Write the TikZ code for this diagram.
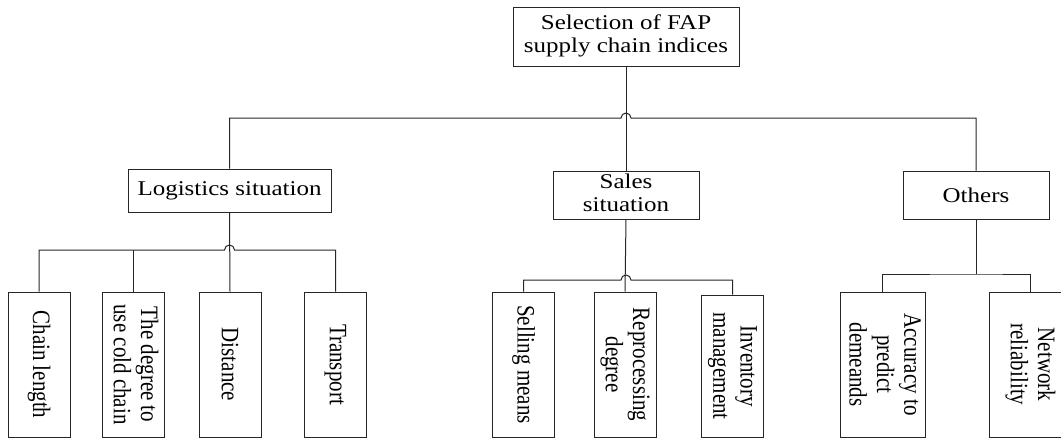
\documentclass[tikz,border=0pt]{standalone}
\usepackage{fontspec}
\setmainfont{Liberation Serif}
\usepackage{graphicx}
\newcommand\hs[1]{\scalebox{1.19}[1]{#1}}
\newcommand\vs[1]{\scalebox{1}[1.19]{#1}}
\newcommand\ml[1]{\begin{tabular}{@{}c@{}}#1\end{tabular}}
\begin{document}
\begin{tikzpicture}[x=1pt,y=-1pt,line width=1pt,
  box/.style={draw=black!85, line width=1pt, font=\fontsize{21}{23}\selectfont, inner sep=0pt},
  leaf/.style={box, rotate=-90, minimum width=145pt, minimum height=62pt},
  wire/.style={draw=black!85, line width=1pt}]
\useasboundingbox (0,0) rectangle (1061,439);
% nodes
\node[box, minimum width=226pt, minimum height=59pt] (top) at (626,36.5) {\hs{\ml{Selection of FAP\\supply chain indices}}};
\node[box, minimum width=203pt, minimum height=43pt] (log) at (229.5,190.5) {\hs{Logistics situation}};
\node[box, minimum width=146pt, minimum height=48pt] (sal) at (626,195) {\hs{\ml{Sales\\situation}}};
\node[box, minimum width=146pt, minimum height=48pt] (oth) at (976,195) {\hs{Others}};
\node[leaf] (cl) at (39,364.5) {\vs{Chain length}};
\node[leaf] (dg) at (133,364.5) {\vs{\ml{The degree to\\use cold chain}}};
\node[leaf] (ds) at (230,364.5) {\vs{Distance}};
\node[leaf] (tr) at (335.5,364.5) {\vs{Transport}};
\node[leaf] (sm) at (523.5,364.5) {\vs{Selling means}};
\node[leaf] (rp) at (625,364.5) {\vs{\ml{Reprocessing\\degree}}};
\node[leaf, minimum width=142pt] (im) at (732.5,366) {\vs{\ml{Inventory\\management}}};
\node[leaf, minimum height=85pt] (ac) at (882.5,364.5) {\vs{\ml{Accuracy to\\predict\\demeands}}};
\node[leaf, minimum height=82pt] (nw) at (1030,364.5) {\vs{\ml{Network\\reliability}}};
% bus levels
\coordinate (y1) at (0,118);
\coordinate (y2) at (0,250);
\coordinate (y3) at (0,280);
\coordinate (y4) at (0,274);
\coordinate (b0) at (top.south |- y1);
\coordinate (b1) at (log.south |- y2);
\coordinate (b2) at (sal.south |- y3);
\coordinate (b4) at (oth.south |- y4);
% connectors
\draw[wire] (top.south) -- (sal.north);
\draw[wire] (log.north) |- ([xshift=-5pt]b0) arc[start angle=180,end angle=0,radius=5pt] -| (oth.north);
\draw[wire] (log.south) -- (ds.west);
\draw[wire] (cl.west) |- ([xshift=-5pt]b1) arc[start angle=180,end angle=0,radius=5pt] -| (tr.west);
\draw[wire] (dg.west) -- (dg.west |- b1);
\draw[wire] (sal.south) -- (rp.west);
\draw[wire] (sm.west) |- ([xshift=-5pt]b2) arc[start angle=180,end angle=0,radius=5pt] -| (im.west);
\draw[wire] (oth.south) -- (b4);
\draw[wire] (ac.west) |- (b4) -| (nw.west);
\end{tikzpicture}
\end{document}
